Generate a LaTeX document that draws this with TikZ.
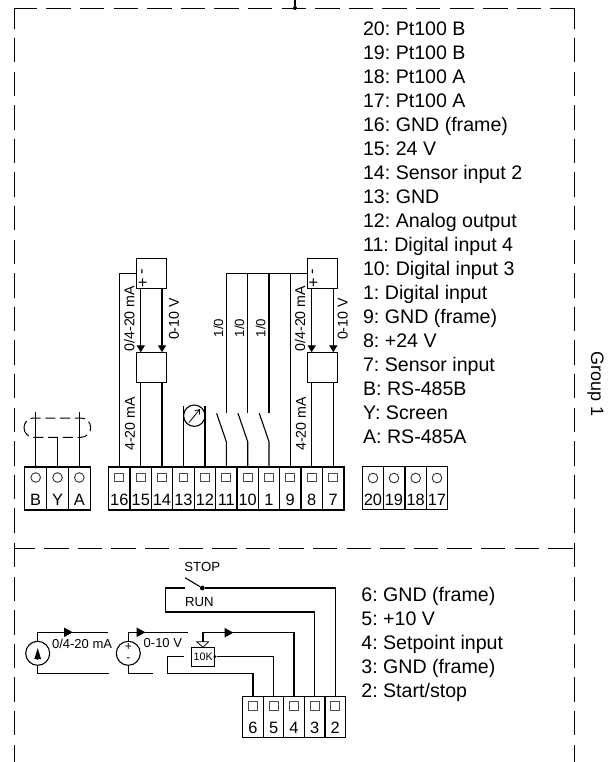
\documentclass[tikz,border=0pt]{standalone}
\usepackage{fontspec}
\setmainfont{Liberation Sans}
\usetikzlibrary{arrows.meta}

\newcommand{\listfont}{\frenchspacing\fontsize{9.8}{11}\selectfont}
\newcommand{\termfont}{\fontsize{8.2}{9}\selectfont}
\newcommand{\wirefont}{\fontsize{7.1}{8}\selectfont}
\newcommand{\iofont}{\fontsize{6.6}{8}\selectfont}
\newcommand{\srcfont}{\fontsize{6.5}{8}\selectfont}
\newcommand{\signfont}{\fontsize{6}{6}\selectfont}

\tikzset{
    wire/.style={line width=0.55pt},
    flowarrow/.style={wire,-{Triangle[length=3.4pt,width=4pt]}},
    srcarrow/.style={wire,-{Triangle[length=4.3pt,width=4.6pt]}},
    framehor/.style={line width=0.5pt,dash pattern=on 12.2pt off 4.6pt},
    framever/.style={line width=0.5pt,dash pattern=on 12.2pt off 4.6pt},
    termcell/.style={draw,line width=0.55pt,rectangle,minimum height=21.5pt,inner sep=0pt,outer sep=0pt},
    sqmark/.style={draw=black!70,line width=0.45pt,rectangle,minimum size=4.4pt,inner sep=0pt},
    rndmark/.style={draw=black!80,line width=0.45pt,circle,minimum size=4.8pt,inner sep=0pt},
    termtext/.style={anchor=base,font=\termfont,inner sep=0pt},
    listtext/.style={anchor=base west,font=\listfont,inner sep=0pt},
    boxunit/.style={draw,line width=0.55pt,rectangle,minimum width=15pt,minimum height=15pt,inner sep=0pt,outer sep=0pt},
    srccircle/.style={draw,line width=0.55pt,circle,minimum size=12pt,inner sep=0pt,outer sep=0pt},
    dotjoin/.style={fill,circle,minimum size=2pt,inner sep=0pt},
}

\begin{document}
\begin{tikzpicture}[x=0.5pt,y=-0.5pt]
    \useasboundingbox (0,0) rectangle (611,762);

    \coordinate (tl) at (14,8);
    \coordinate (tr) at (574.5,8);
    \coordinate (lmid) at (14,534);
    \coordinate (rmid) at (574.5,534);
    \coordinate (ml) at (14,548);
    \coordinate (mr) at (574.5,548);
    \coordinate (ls) at (14,543);
    \coordinate (rs) at (574.5,543);
    \coordinate (bl) at (14,762);
    \coordinate (br) at (574.5,762);
    \coordinate (feedtop) at (295,0);

    \draw[framehor,dash phase=0.6pt] (tl)--(tr);
    \draw[framehor,dash phase=1.7pt] (ml)--(mr);
    \draw[framever,dash phase=1.85pt] (tl)--(lmid);
    \draw[framever,dash phase=1.85pt] (tr)--(rmid);
    \draw[framever] (ls)--(bl);
    \draw[framever] (rs)--(br);
    \node (feeddot) at (295,8)[dotjoin]{};
    \draw[wire] (feedtop)--(feeddot);

    \foreach \name/\xc/\txt in {tB/35.7/B,tY/57.5/Y,tA/79.3/A}{
        \node (\name) at (\xc,488.5)[termcell,minimum width=10.9pt]{};
        \node (m\name) at (\xc,477.5)[rndmark]{};
        \node (n\name) at (\xc,505.5)[termtext]{\txt};
    }
    \foreach \name/\xc in {16/119.3,15/140.8,14/162,13/183.5,12/205,11/226.3,10/247.7,1/269,9/290.3,8/311.7,7/333.3}{
        \node (t\name) at (\xc,488.5)[termcell,minimum width=10.7pt]{};
        \node (m\name) at (\xc,477.5)[sqmark]{};
        \node (n\name) at (\xc,505.5)[termtext]{\name};
    }
    \foreach \name/\xc in {20/373,19/394,18/415.7,17/437}{
        \node (t\name) at (\xc,488)[termcell,minimum width=10.7pt]{};
        \node (m\name) at (\xc,478)[rndmark]{};
        \node (n\name) at (\xc,505.5)[termtext]{\name};
    }
    \foreach \name/\xc in {6/253,5/273.6,4/294,3/314.7,2/335.3}{
        \node (t\name) at (\xc,716.7)[termcell,minimum width=10.3pt,minimum height=20.6pt]{};
        \node (m\name) at (\xc,705.7)[sqmark]{};
        \node (n\name) at (\xc,733)[termtext]{\name};
    }

    \foreach \n/\txt [count=\i from 0] in {20/Pt100 B,19/Pt100 B,18/Pt100 A,17/Pt100 A,16/GND (frame),15/24 V,14/Sensor input 2,13/GND,12/Analog output,11/Digital input 4,10/Digital input 3,1/Digital input,9/GND (frame),8/+24 V,7/Sensor input,B/RS-485B,Y/Screen,A/RS-485A}{
        \node (line\n) at (362.7,35+24*\i)[listtext]{\n: \txt};
    }
    \foreach \n/\txt [count=\i from 0] in {6/GND (frame),5/+10 V,4/Setpoint input,3/GND (frame),2/{Start/stop}}{
        \node (low\n) at (361,601.5+23.9*\i)[listtext]{\n: \txt};
    }
    \node (group) at (591,384)[anchor=base,rotate=-90,inner sep=0pt,font=\fontsize{9}{11}\selectfont]{Group 1};

    \coordinate (shB) at (35.7,411.7);
    \coordinate (shA) at (79.3,411.7);
    \coordinate (shY) at (57.3,437.3);
    \draw[wire] (shB)--(tB.north -| shB);
    \draw[wire] (shY)--(tY.north -| shY);
    \draw[wire] (shA)--(tA.north -| shA);
    \node (dotB) at (35.7,466.7)[dotjoin,minimum size=1.6pt]{};
    \draw[line width=0.5pt,dash pattern=on 5pt off 2.4pt,rounded corners=4.8pt] (24,418)rectangle(90.7,437.3);

    \node (sensL) at (151.3,273.3)[boxunit]{};
    \node (convL) at (151.3,367.2)[boxunit]{};
    \node (sensR) at (322.3,273.3)[boxunit]{};
    \node (convR) at (322.3,367.2)[boxunit]{};
    \node (minusL) at (143.8,271.5)[rotate=90,font=\termfont,inner sep=0pt]{-};
    \node (plusL) at (143.5,283)[rotate=90,font=\termfont,inner sep=0pt]{+};
    \node (minusR) at (314.5,271.5)[rotate=90,font=\termfont,inner sep=0pt]{-};
    \node (plusR) at (314.2,283)[rotate=90,font=\termfont,inner sep=0pt]{+};

    \draw[wire] (t16.north)|-(sensL.west);
    \draw[flowarrow] (t15.north |- sensL.south)--(t15.north |- convL.north);
    \draw[flowarrow] (t14.north |- sensL.south)--(t14.north |- convL.north);
    \draw[wire] (t15.north)--(t15.north |- convL.south);
    \draw[wire] (t14.north)--(t14.north |- convL.south);

    \draw[wire] (t9.north)--(t9.north |- sensR.west);
    \coordinate (ioTop) at (226.3,273.3);
    \draw[wire] (ioTop)--(sensR.west);
    \draw[flowarrow] (t8.north |- sensR.south)--(t8.north |- convR.north);
    \draw[flowarrow] (t7.north |- sensR.south)--(t7.north |- convR.north);
    \draw[wire] (t8.north)--(t8.north |- convR.south);
    \draw[wire] (t7.north)--(t7.north |- convR.south);

    \foreach \name/\xc in {11/226.3,10/247.7,1/269}{
        \coordinate (up\name) at (\xc,273.3);
        \coordinate (fix\name) at (\xc,413.3);
        \coordinate (hinge\name) at (\xc,441.7);
        \coordinate (blade\name) at (\xc-9.7,413.3);
        \draw[wire] (up\name)--(fix\name);
        \draw[wire] (t\name.north)--(hinge\name)--(blade\name);
    }

    \node (meter) at (194.3,415.7)[srccircle,minimum size=10.7pt]{};
    \draw[wire] (t13.north)--(t13.north |- 0,405.7);
    \draw[wire] (t12.north)--(t12.north |- 0,405.7);
    \coordinate (mA) at (189,422.5);
    \coordinate (mB) at (200,409);
    \draw[line width=0.4pt,-{Straight Barb[length=2pt,width=3pt]}] (mA)--(mB);

    \node (lbl1) at (129.3,318.7)[rotate=90,font=\wirefont,inner sep=0pt]{0/4-20 mA};
    \node (lbl2) at (174,319)[rotate=90,font=\wirefont,inner sep=0pt]{0-10 V};
    \node (lbl3) at (130,424)[rotate=90,font=\wirefont,inner sep=0pt]{4-20 mA};
    \node (lbl4) at (300,318.7)[rotate=90,font=\wirefont,inner sep=0pt]{0/4-20 mA};
    \node (lbl5) at (342.7,319)[rotate=90,font=\wirefont,inner sep=0pt]{0-10 V};
    \node (lbl6) at (301,424)[rotate=90,font=\wirefont,inner sep=0pt]{4-20 mA};
    \node (io1) at (218.3,328)[rotate=90,font=\iofont,inner sep=0pt]{1/0};
    \node (io2) at (239.3,328)[rotate=90,font=\iofont,inner sep=0pt]{1/0};
    \node (io3) at (260.7,328)[rotate=90,font=\iofont,inner sep=0pt]{1/0};

    \node (srcI) at (37.7,653.3)[srccircle]{};
    \node (srcU) at (128.3,653.3)[srccircle]{};
    \coordinate (iTop) at (37.7,632.3);
    \coordinate (iEnd) at (108.3,632.3);
    \coordinate (iTip) at (72.7,632.3);
    \coordinate (iBot) at (37.7,673.7);
    \coordinate (iBotEnd) at (109,673.7);
    \coordinate (uTop) at (128.3,632.3);
    \coordinate (uEnd) at (187.7,632.3);
    \coordinate (uTip) at (145.3,632.3);
    \coordinate (uBot) at (128.3,673.7);
    \coordinate (uBotEnd) at (152.7,673.7);
    \draw[wire] (srcI.north)--(iTop)--(iEnd);
    \draw[srcarrow] (iTop)--(iTip);
    \draw[wire] (srcI.south)--(iBot)--(iBotEnd);
    \draw[wire] (srcU.north)--(uTop)--(uEnd);
    \draw[srcarrow] (uTop)--(uTip);
    \draw[wire] (srcU.south)--(uBot)--(uBotEnd);
    \coordinate (iArrL) at (37.7,660);
    \coordinate (iArrT) at (37.7,648);
    \draw[wire,-{Triangle[length=5.5pt,width=3.2pt]}] (iArrL)--(iArrT);
    \node (uplus) at (128.3,647.5)[font=\signfont,inner sep=0pt]{+};
    \node (uminus) at (128.3,660)[font=\signfont,inner sep=0pt]{-};
    \node (iText) at (51.7,648.3)[anchor=base west,font=\srcfont,inner sep=0pt]{0/4-20 mA};
    \node (uText) at (143.3,647.5)[anchor=base west,font=\srcfont,inner sep=0pt]{0-10 V};

    \node (pot) at (203.3,656.7)[draw,line width=0.55pt,rectangle,minimum width=11.6pt,minimum height=9.4pt,inner sep=0pt,outer sep=0pt,font=\fontsize{5.4}{6}\selectfont]{10K};
    \node (potdot) at (pot.east)[dotjoin,minimum size=1.6pt]{};
    \coordinate (potLeft) at (184,656.7);
    \coordinate (potA) at (167.3,656.7);
    \coordinate (potB) at (167.3,673.7);
    \draw[wire] (potdot)-|(t5.north);
    \draw[wire] (potLeft)--(potA)--(potB)-|(t6.north);
    \coordinate (wipA) at (196.7,641.7);
    \coordinate (wipB) at (208.7,641.7);
    \coordinate (wipC) at (203,647.3);
    \draw[line width=0.4pt] (wipA)--(wipB)--(wipC)--cycle;
    \coordinate (wipTop) at (203,632.7);
    \coordinate (wipTip) at (233.3,632.7);
    \coordinate (wipM) at (203,641.7);
    \draw[wire] (wipM)--(wipTop)-|(t4.north);
    \draw[srcarrow] (wipTop)--(wipTip);

    \node (swdot) at (202.3,588)[dotjoin,minimum size=2.4pt]{};
    \coordinate (swBlade) at (185,577.7);
    \coordinate (swOff) at (185,588);
    \coordinate (swA) at (165.7,588);
    \coordinate (swB) at (165.7,612);
    \draw[wire] (swBlade)--(swdot);
    \draw[wire] (swdot)-|(t2.north);
    \draw[wire] (swOff)--(swA)--(swB)-|(t3.north);
    \node (stoptxt) at (184,571.7)[anchor=base west,font=\fontsize{6.6}{8}\selectfont,inner sep=0pt]{STOP};
    \node (runtxt) at (184.7,606.7)[anchor=base west,font=\fontsize{6.6}{8}\selectfont,inner sep=0pt]{RUN};
\end{tikzpicture}
\end{document}
